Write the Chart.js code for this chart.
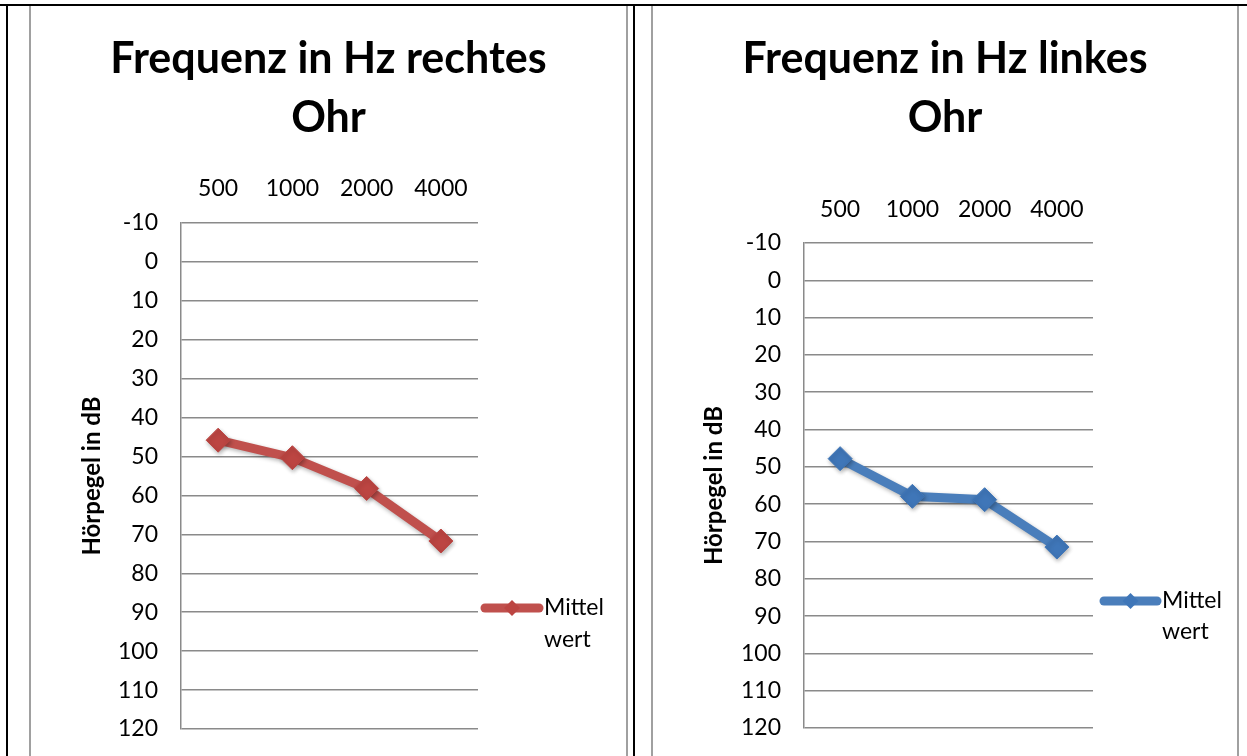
<!DOCTYPE html>
<html>
<head>
<meta charset="utf-8">
<script src="https://cdn.jsdelivr.net/npm/chart.js@4.4.1/dist/chart.umd.min.js"></script>
<style>
  html, body { margin: 0; padding: 0; background: #fff; }
  body { width: 1247px; height: 756px; position: relative; overflow: hidden; }
  canvas { position: absolute; top: 0; }
  .ln { position: absolute; z-index: 5; }
  .blk { background: #000; }
  .gry { background: #a0a0a0; }
</style>
</head>
<body>
<canvas id="cR" width="597" height="756" style="left:30px"></canvas>
<canvas id="cL" width="586" height="756" style="left:652px"></canvas>

<div class="ln blk" style="left:0;top:4px;width:1247px;height:2px"></div>
<div class="ln blk" style="left:6px;top:4px;width:2px;height:752px"></div>
<div class="ln blk" style="left:633px;top:4px;width:2px;height:752px"></div>
<div class="ln gry" style="left:29px;top:6px;width:2px;height:750px"></div>
<div class="ln gry" style="left:626px;top:6px;width:2px;height:750px"></div>
<div class="ln gry" style="left:651px;top:6px;width:2px;height:750px"></div>
<div class="ln gry" style="left:1237px;top:6px;width:2px;height:750px"></div>

<script>
// ---- data ----
const frequencies = ['500', '1000', '2000', '4000'];
const rightEarValues = [45.8, 50.3, 58.2, 71.7];
const leftEarValues = [47.8, 57.9, 58.8, 71.5];
const seriesLabel = 'Mittelwert';
const legendLines = ['Mittel', 'wert'];
const titleRight = ['Frequenz in Hz rechtes', 'Ohr'];
const titleLeft = ['Frequenz in Hz linkes', 'Ohr'];
const yAxisTitle = 'Hörpegel in dB';
const yMin = -10, yMax = 120, yStep = 10;

Chart.defaults.font.family = 'Lato, "Open Sans", sans-serif';
Chart.defaults.color = '#000';

const shadowPlugin = {
  id: 'shadow',
  beforeDatasetsDraw(chart) {
    const ctx = chart.ctx;
    ctx.save();
    ctx.shadowColor = 'rgba(0,0,0,0.3)';
    ctx.shadowBlur = 4;
    ctx.shadowOffsetX = 1;
    ctx.shadowOffsetY = 2;
  },
  afterDatasetsDraw(chart) { chart.ctx.restore(); }
};

const customLegend = {
  id: 'customLegend',
  afterDraw(chart, args, opts) {
    const ctx = chart.ctx;
    const ds = chart.data.datasets[0];
    const ca = chart.chartArea;
    const x0 = ca.right + opts.dx;
    const x1 = x0 + opts.len;
    const y = opts.y;
    ctx.save();
    ctx.strokeStyle = ds.borderColor;
    ctx.lineWidth = 9;
    ctx.lineCap = 'round';
    ctx.beginPath();
    ctx.moveTo(x0 + 4, y);
    ctx.lineTo(x1 - 4, y);
    ctx.stroke();
    const cx = (x0 + x1) / 2, r = 8;
    ctx.fillStyle = ds.pointBackgroundColor;
    ctx.beginPath();
    ctx.moveTo(cx, y - r); ctx.lineTo(cx + r, y); ctx.lineTo(cx, y + r); ctx.lineTo(cx - r, y);
    ctx.closePath();
    ctx.fill();
    ctx.fillStyle = '#000';
    ctx.font = '23px Lato, "Open Sans", sans-serif';
    ctx.textBaseline = 'middle';
    ctx.textAlign = 'left';
    legendLines.forEach((t, i) => ctx.fillText(t, x1 + 1, y + i * opts.gap));
    ctx.restore();
  }
};

function makeChart(id, titleLines, values, color, pointColor, cfg) {
  return new Chart(document.getElementById(id), {
    type: 'line',
    data: {
      labels: frequencies,
      datasets: [{
        label: seriesLabel,
        data: values,
        borderColor: color,
        backgroundColor: color,
        borderWidth: 9,
        tension: 0,
        pointStyle: 'rectRot',
        pointRadius: 12,
        pointHoverRadius: 12,
        pointBackgroundColor: pointColor,
        pointBorderColor: pointColor,
        pointBorderWidth: 1,
        yAxisID: 'y'
      }]
    },
    options: {
      responsive: false,
      animation: false,
      devicePixelRatio: 1,
      layout: { padding: { left: 38, right: 38, top: 0, bottom: cfg.padBottom } },
      plugins: {
        legend: { display: false },
        tooltip: { enabled: false },
        title: {
          display: true,
          text: titleLines,
          color: '#000',
          font: { size: 43, weight: 'bold', lineHeight: 1.37 },
          padding: { top: 30, bottom: 0 }
        },
        customLegend: cfg.legend
      },
      scales: {
        x: {
          position: 'top',
          offset: true,
          grid: { display: false, drawTicks: false },
          border: { display: false },
          ticks: { font: { size: 23 }, padding: cfg.xPad, color: '#000', maxRotation: 0 },
          afterFit(s) { s.height = cfg.xHeight; }
        },
        y: {
          position: 'left',
          reverse: true,
          min: yMin,
          max: yMax,
          ticks: { stepSize: yStep, font: { size: 23 }, padding: 23, color: '#000' },
          grid: { color: '#8a8a8a', lineWidth: 1.5, drawTicks: false },
          border: { display: true, color: '#8a8a8a', width: 1.5 },
          title: {
            display: true,
            text: yAxisTitle,
            color: '#000',
            font: { size: 24, weight: 'bold' },
            padding: { top: 10, bottom: 0 }
          },
          afterFit(s) { s.width = cfg.yWidth; s.paddingTop = 0; s.paddingBottom = 0; }
        },
        y2: {
          position: 'right',
          display: true,
          grid: { display: false, drawTicks: false },
          border: { display: false },
          ticks: { display: false },
          afterFit(s) { s.width = cfg.y2Width; s.paddingTop = 0; s.paddingBottom = 0; }
        }
      }
    },
    plugins: [shadowPlugin, customLegend]
  });
}

// Title block height = 30 + 2*43*1.37 ≈ 147.8
makeChart('cR', titleRight, rightEarValues, '#C0504D', '#BC4542', {
  padBottom: 27, xPad: 21, xHeight: 223 - 147.8, yWidth: 113, y2Width: 111,
  legend: { dx: 3, len: 62, y: 608, gap: 32 }
});
makeChart('cL', titleLeft, leftEarValues, '#4A7EBB', '#3F76B8', {
  padBottom: 28, xPad: 20, xHeight: 243 - 147.8, yWidth: 114, y2Width: 107,
  legend: { dx: 7, len: 61, y: 601, gap: 31 }
});
</script>
</body>
</html>
